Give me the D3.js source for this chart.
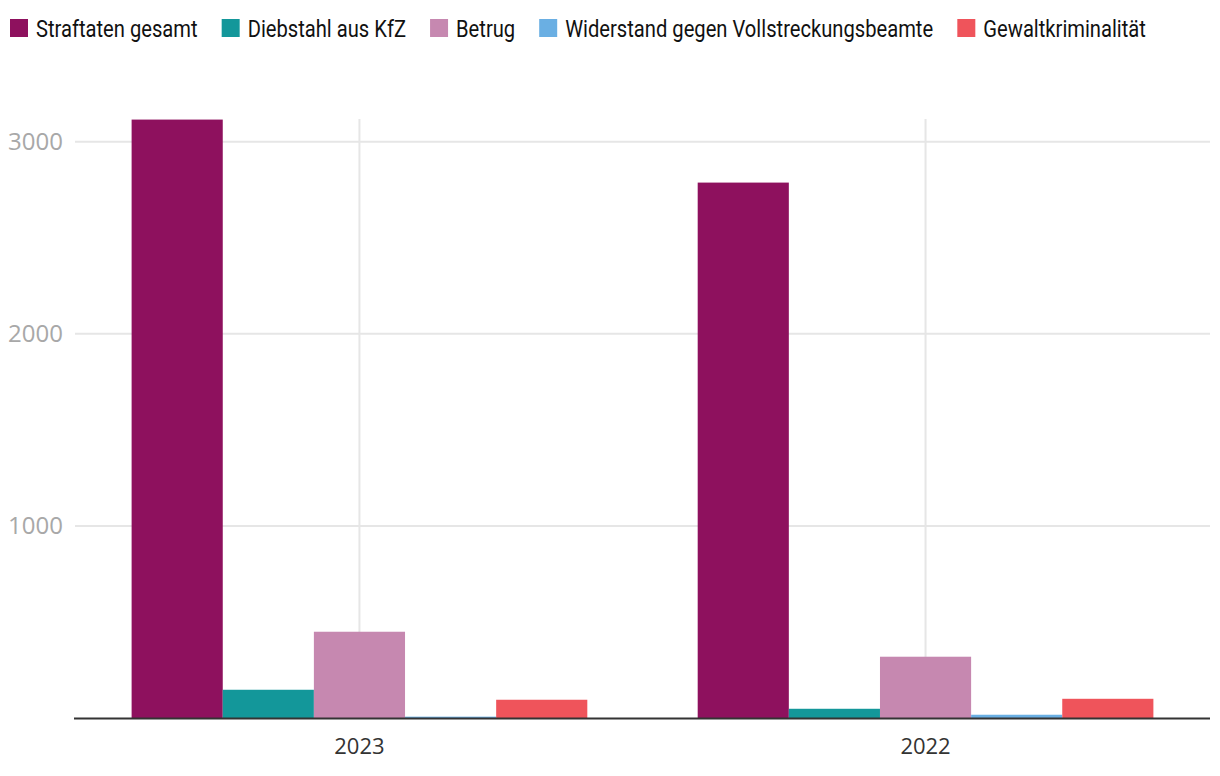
<!DOCTYPE html>
<html>
<head>
<meta charset="utf-8">
<script src="https://cdn.jsdelivr.net/npm/d3@7/dist/d3.min.js"></script>
<style>
  html, body { margin: 0; padding: 0; background: #fff; }
  svg { display: block; }
</style>
</head>
<body>
<svg id="chart" width="1220" height="776"></svg>
<script>
const years = ["2023", "2022"];
const seriesNames = ["Straftaten gesamt", "Diebstahl aus KfZ", "Betrug", "Widerstand gegen Vollstreckungsbeamte", "Gewaltkriminalität"];
const seriesColors = ["#8e115e", "#13979a", "#c688b0", "#6aafe3", "#ef545b"];
const values2023 = [3115, 147, 449, 7, 95];
const values2022 = [2787, 48, 319, 17, 100];
const yTicks = [1000, 2000, 3000];

const valuesByYear = { "2023": values2023, "2022": values2022 };
const data = years.map(y => ({ year: y, values: seriesNames.map((s, i) => ({ series: s, value: valuesByYear[y][i], color: seriesColors[i] })) }));

const svg = d3.select("#chart");
const margin = { left: 75, right: 10, top: 119, bottom: 58 };
const W = 1220, H = 776;
const plotBottom = 718;

const x0 = d3.scaleBand().domain(years).range([margin.left, W - margin.right]).paddingInner(0.195).paddingOuter(0.1);
const x1 = d3.scaleBand().domain(seriesNames).range([0, x0.bandwidth()]);
const y = d3.scaleLinear().domain([0, 3118]).range([plotBottom, margin.top]);

const labelFont = "'Open Sans', 'Noto Sans', sans-serif";
const legendFont = "'Roboto', 'Noto Sans', sans-serif";

// horizontal grid
svg.append("g").selectAll("line").data(yTicks).join("line")
  .attr("x1", margin.left).attr("x2", W - margin.right)
  .attr("y1", d => y(d)).attr("y2", d => y(d))
  .attr("stroke", "#e6e6e6").attr("stroke-width", 2);

// vertical grid at band centers
svg.append("g").selectAll("line").data(years).join("line")
  .attr("x1", d => x0(d) + x0.bandwidth() / 2).attr("x2", d => x0(d) + x0.bandwidth() / 2)
  .attr("y1", y.range()[1]).attr("y2", plotBottom)
  .attr("stroke", "#e6e6e6").attr("stroke-width", 2);

// y labels
svg.append("g").selectAll("text").data(yTicks).join("text")
  .attr("x", 63).attr("y", d => y(d))
  .attr("dy", "0.35em")
  .attr("text-anchor", "end")
  .attr("font-family", labelFont).attr("font-size", 24)
  .attr("fill", "#a8a8a8")
  .text(d => d);

// bars
const groups = svg.append("g").selectAll("g").data(data).join("g")
  .attr("transform", d => `translate(${x0(d.year)},0)`);
groups.selectAll("rect").data(d => d.values).join("rect")
  .attr("x", d => x1(d.series))
  .attr("width", x1.bandwidth())
  .attr("y", d => y(d.value))
  .attr("height", d => plotBottom - y(d.value))
  .attr("fill", d => d.color);

// x axis line
svg.append("line")
  .attr("x1", margin.left - 1).attr("x2", W - margin.right)
  .attr("y1", plotBottom + 0.5).attr("y2", plotBottom + 0.5)
  .attr("stroke", "#333").attr("stroke-width", 2);

// x labels
svg.append("g").selectAll("text").data(years).join("text")
  .attr("x", d => x0(d) + x0.bandwidth() / 2)
  .attr("y", 746).attr("dy", "0.35em")
  .attr("text-anchor", "middle")
  .attr("font-family", labelFont).attr("font-size", 22)
  .attr("fill", "#333")
  .text(d => d);

// legend (condensed text to match the narrow face of the reference)
const legend = svg.append("g");
const squareSize = 18, textOffset = 26, itemGap = 24, legendStart = 10, legendEnd = 1146;
const items = seriesNames.map((s, i) => {
  const g = legend.append("g");
  g.append("rect").attr("x", 0).attr("y", 19).attr("width", squareSize).attr("height", squareSize).attr("fill", seriesColors[i]);
  const t = g.append("text").attr("y", 28).attr("dy", "0.36em")
    .attr("font-family", legendFont).attr("font-size", 24).attr("fill", "#111")
    .text(s);
  return { g, t, w: t.node().getComputedTextLength() };
});
const totalText = d3.sum(items, d => d.w);
const k = (legendEnd - legendStart - items.length * textOffset - (items.length - 1) * itemGap) / totalText;
let lx = legendStart;
items.forEach(it => {
  it.g.attr("transform", `translate(${lx},0)`);
  it.t.attr("transform", `translate(${textOffset},0) scale(${k},1)`);
  lx += textOffset + it.w * k + itemGap;
});
</script>
</body>
</html>
